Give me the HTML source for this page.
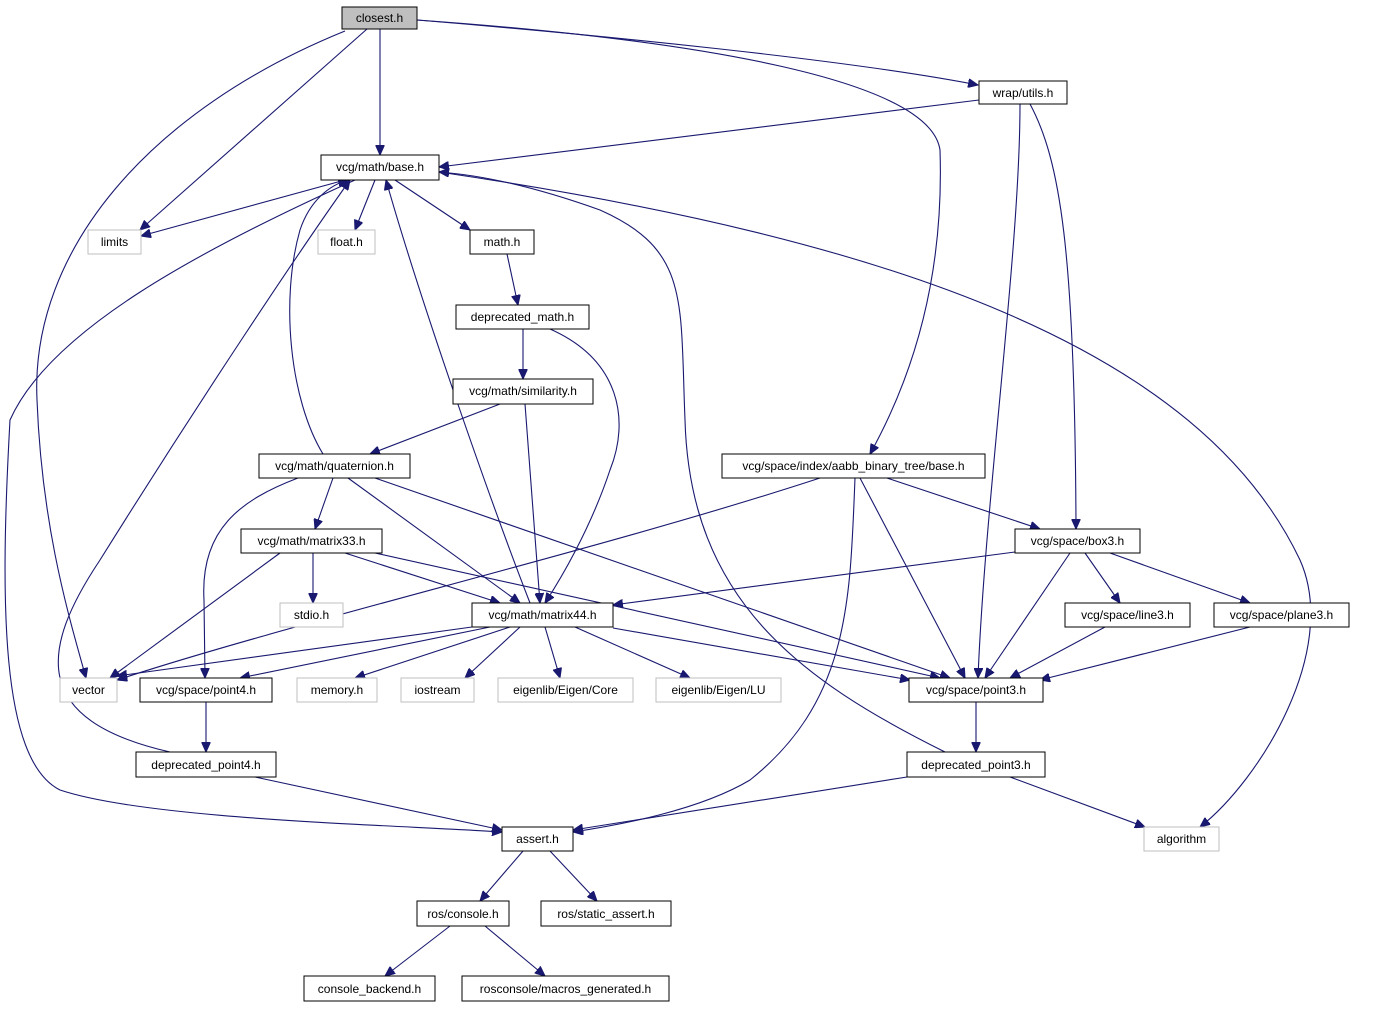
<!DOCTYPE html>
<html><head><meta charset="utf-8"><style>
html,body{margin:0;padding:0;background:#fff}
svg text{font-family:"Liberation Sans",Helvetica,sans-serif;font-size:12px;text-anchor:middle}
</style></head><body>
<svg width="1378" height="1008" viewBox="0 0 1378 1008" xmlns="http://www.w3.org/2000/svg">
<defs><marker id="a" markerUnits="userSpaceOnUse" markerWidth="11" markerHeight="9" refX="10" refY="4.5" orient="auto"><path d="M0,0 L10,4.5 L0,9 z" fill="#191970" stroke="#191970"/></marker></defs>
<g fill="none" stroke="#191970" stroke-width="1.1" marker-end="url(#a)">
<path d="M380,29 L380,155"/>
<path d="M367,29 L140,230"/>
<path d="M345,31 C150,110 30,250 37,400 C42,530 70,620 86,678"/>
<path d="M417,20 C600,35 850,60 978,85"/>
<path d="M417,20 C700,40 930,80 940,150 C945,300 900,400 870,454"/>
<path d="M979,100 L439,167"/>
<path d="M1020,104 C1020,250 985,500 978,678"/>
<path d="M1030,104 C1060,160 1075,250 1076,529"/>
<path d="M345,180 L141,236"/>
<path d="M375,180 L355,230"/>
<path d="M395,180 L470,230"/>
<path d="M439,172 C900,240 1200,350 1300,560 C1340,650 1260,780 1200,827"/>
<path d="M355,180 C200,250 50,330 10,420 C0,600 0,760 60,790 C150,820 400,825 502,832"/>
<path d="M507,254 L518,305"/>
<path d="M523,329 L523,379"/>
<path d="M550,329 C620,360 630,420 610,470 C590,530 560,580 545,603"/>
<path d="M500,404 L370,454"/>
<path d="M525,404 L540,603"/>
<path d="M323,454 C290,400 280,300 300,230 C310,200 330,185 348,180"/>
<path d="M333,478 L315,529"/>
<path d="M298,478 C240,500 200,530 204,600 L205,678"/>
<path d="M348,478 L520,603"/>
<path d="M375,478 L950,678"/>
<path d="M820,478 C600,550 300,620 117,680"/>
<path d="M855,478 C850,600 850,700 750,780 C700,810 620,825 573,832"/>
<path d="M860,478 L965,678"/>
<path d="M887,478 L1040,529"/>
<path d="M313,553 L313,603"/>
<path d="M280,553 L110,678"/>
<path d="M345,553 L500,603"/>
<path d="M375,553 L940,678"/>
<path d="M530,603 C490,500 420,300 386,180"/>
<path d="M472,627 L117,676"/>
<path d="M490,627 L240,678"/>
<path d="M510,627 L355,678"/>
<path d="M520,627 L465,678"/>
<path d="M545,627 L560,678"/>
<path d="M575,627 L690,678"/>
<path d="M613,628 L910,680"/>
<path d="M1015,552 L613,605"/>
<path d="M1070,553 L985,678"/>
<path d="M1085,553 L1120,603"/>
<path d="M1110,553 L1250,603"/>
<path d="M1105,627 L1010,678"/>
<path d="M1250,627 L1040,680"/>
<path d="M206,702 L206,752"/>
<path d="M170,752 C30,720 40,650 100,560 C200,400 300,250 350,180"/>
<path d="M255,777 L502,830"/>
<path d="M976,702 L976,752"/>
<path d="M945,752 C800,680 690,600 685,420 C680,300 690,250 600,210 C530,185 480,175 439,172"/>
<path d="M907,777 L573,830"/>
<path d="M1010,777 L1145,827"/>
<path d="M523,851 L480,901"/>
<path d="M550,851 L597,901"/>
<path d="M450,926 L385,976"/>
<path d="M485,926 L545,976"/>
</g>
<g stroke-width="1">
<rect x="342" y="7" width="75" height="22" fill="#bfbfbf" stroke="#000"/><text x="379.5" y="22">closest.h</text>
<rect x="979" y="81" width="88" height="23" fill="#fff" stroke="#000"/><text x="1023" y="97">wrap/utils.h</text>
<rect x="321" y="155" width="118" height="25" fill="#fff" stroke="#000"/><text x="380" y="171">vcg/math/base.h</text>
<rect x="88" y="230" width="53" height="24" fill="#fff" stroke="#bfbfbf"/><text x="114.5" y="246">limits</text>
<rect x="318" y="230" width="57" height="24" fill="#fff" stroke="#bfbfbf"/><text x="346.5" y="246">float.h</text>
<rect x="470" y="230" width="64" height="24" fill="#fff" stroke="#000"/><text x="502" y="246">math.h</text>
<rect x="456" y="305" width="133" height="24" fill="#fff" stroke="#000"/><text x="522.5" y="321">deprecated_math.h</text>
<rect x="453" y="379" width="140" height="25" fill="#fff" stroke="#000"/><text x="523" y="395">vcg/math/similarity.h</text>
<rect x="259" y="454" width="151" height="24" fill="#fff" stroke="#000"/><text x="334.5" y="470">vcg/math/quaternion.h</text>
<rect x="722" y="454" width="263" height="24" fill="#fff" stroke="#000"/><text x="853.5" y="470">vcg/space/index/aabb_binary_tree/base.h</text>
<rect x="241" y="529" width="141" height="24" fill="#fff" stroke="#000"/><text x="311.5" y="545">vcg/math/matrix33.h</text>
<rect x="1015" y="529" width="125" height="24" fill="#fff" stroke="#000"/><text x="1077.5" y="545">vcg/space/box3.h</text>
<rect x="280" y="603" width="63" height="24" fill="#fff" stroke="#bfbfbf"/><text x="311.5" y="619">stdio.h</text>
<rect x="472" y="603" width="141" height="24" fill="#fff" stroke="#000"/><text x="542.5" y="619">vcg/math/matrix44.h</text>
<rect x="1065" y="603" width="125" height="24" fill="#fff" stroke="#000"/><text x="1127.5" y="619">vcg/space/line3.h</text>
<rect x="1214" y="603" width="135" height="24" fill="#fff" stroke="#000"/><text x="1281.5" y="619">vcg/space/plane3.h</text>
<rect x="60" y="678" width="57" height="24" fill="#fff" stroke="#bfbfbf"/><text x="88.5" y="694">vector</text>
<rect x="140" y="678" width="132" height="24" fill="#fff" stroke="#000"/><text x="206" y="694">vcg/space/point4.h</text>
<rect x="297" y="678" width="80" height="24" fill="#fff" stroke="#bfbfbf"/><text x="337" y="694">memory.h</text>
<rect x="401" y="678" width="73" height="24" fill="#fff" stroke="#bfbfbf"/><text x="437.5" y="694">iostream</text>
<rect x="498" y="678" width="135" height="24" fill="#fff" stroke="#bfbfbf"/><text x="565.5" y="694">eigenlib/Eigen/Core</text>
<rect x="656" y="678" width="125" height="24" fill="#fff" stroke="#bfbfbf"/><text x="718.5" y="694">eigenlib/Eigen/LU</text>
<rect x="909" y="678" width="134" height="24" fill="#fff" stroke="#000"/><text x="976" y="694">vcg/space/point3.h</text>
<rect x="136" y="752" width="140" height="25" fill="#fff" stroke="#000"/><text x="206" y="769">deprecated_point4.h</text>
<rect x="907" y="752" width="138" height="25" fill="#fff" stroke="#000"/><text x="976" y="769">deprecated_point3.h</text>
<rect x="502" y="827" width="71" height="24" fill="#fff" stroke="#000"/><text x="537.5" y="843">assert.h</text>
<rect x="1144" y="827" width="75" height="24" fill="#fff" stroke="#bfbfbf"/><text x="1181.5" y="843">algorithm</text>
<rect x="417" y="901" width="92" height="25" fill="#fff" stroke="#000"/><text x="463" y="918">ros/console.h</text>
<rect x="541" y="901" width="130" height="25" fill="#fff" stroke="#000"/><text x="606" y="918">ros/static_assert.h</text>
<rect x="304" y="976" width="131" height="25" fill="#fff" stroke="#000"/><text x="369.5" y="993">console_backend.h</text>
<rect x="462" y="976" width="207" height="25" fill="#fff" stroke="#000"/><text x="565.5" y="993">rosconsole/macros_generated.h</text>
</g>
</svg>
</body></html>
